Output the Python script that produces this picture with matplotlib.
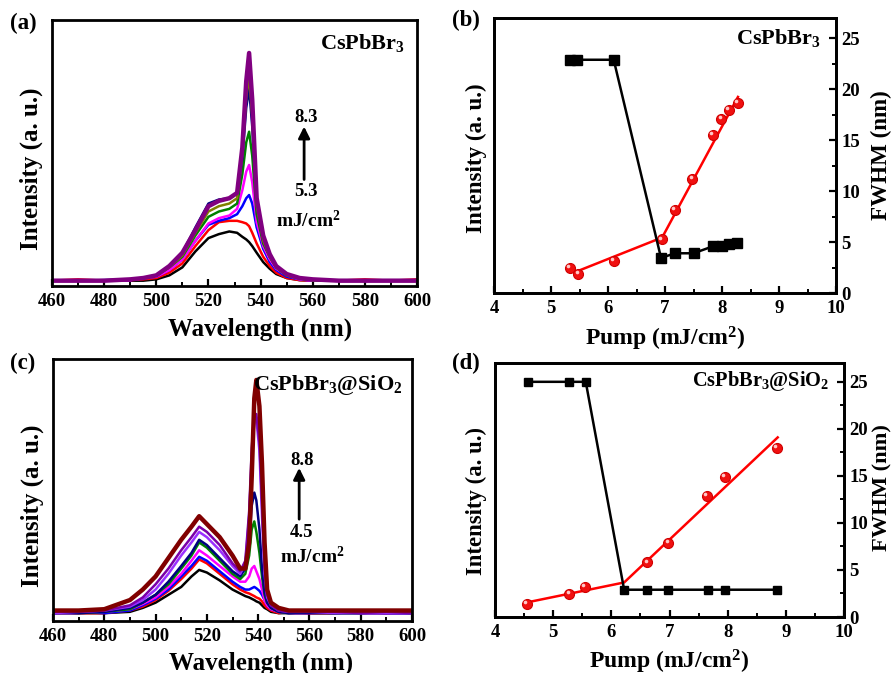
import matplotlib
matplotlib.use('Agg')
import matplotlib.pyplot as plt
from matplotlib.ticker import MultipleLocator, NullLocator
from matplotlib.transforms import ScaledTranslation

plt.rcParams['font.family'] = ['Liberation Serif', 'DejaVu Serif']
plt.rcParams['font.weight'] = 'bold'
plt.rcParams['axes.labelweight'] = 'bold'
plt.rcParams['mathtext.fontset'] = 'custom'
plt.rcParams['mathtext.rm'] = 'Liberation Serif:bold'
plt.rcParams['mathtext.it'] = 'Liberation Serif:bold:italic'
plt.rcParams['mathtext.bf'] = 'Liberation Serif:bold'

# ---------------- panel (a): CsPbBr3 spectra (normalised a.u.) ----------------
wl_a = [460, 470, 480, 490, 495, 500, 505, 510, 515, 520, 524, 528, 531, 533, 534.5,
        535.6, 536.8, 538.5, 541, 543.5, 546, 550, 555, 560, 570, 580, 590, 600]
a_black = [0.02, 0.02, 0.02, 0.02, 0.02, 0.025, 0.04, 0.07, 0.13, 0.18, 0.195, 0.205, 0.2, 0.185,
           0.175, 0.165, 0.15, 0.125, 0.09, 0.065, 0.045, 0.03, 0.022, 0.02, 0.02, 0.02, 0.02, 0.02]
a_red = [0.02, 0.025, 0.02, 0.022, 0.025, 0.03, 0.05, 0.085, 0.15, 0.21, 0.24, 0.245, 0.245, 0.24,
         0.235, 0.225, 0.2, 0.16, 0.11, 0.075, 0.05, 0.03, 0.022, 0.02, 0.02, 0.025, 0.02, 0.025]
a_blue = [0.02, 0.02, 0.022, 0.022, 0.03, 0.035, 0.06, 0.1, 0.17, 0.23, 0.245, 0.255, 0.27, 0.3,
          0.33, 0.342, 0.31, 0.22, 0.14, 0.09, 0.06, 0.035, 0.025, 0.02, 0.02, 0.02, 0.02, 0.02]
a_magenta = [0.02, 0.022, 0.02, 0.022, 0.03, 0.035, 0.06, 0.1, 0.17, 0.235, 0.255, 0.265, 0.29, 0.36,
             0.43, 0.455, 0.39, 0.24, 0.15, 0.1, 0.065, 0.04, 0.025, 0.02, 0.02, 0.02, 0.02, 0.02]
a_green = [0.02, 0.02, 0.02, 0.025, 0.03, 0.04, 0.07, 0.11, 0.19, 0.26, 0.28, 0.29, 0.31, 0.42,
           0.54, 0.58, 0.49, 0.27, 0.16, 0.11, 0.07, 0.04, 0.028, 0.022, 0.02, 0.02, 0.02, 0.02]
a_navy = [0.02, 0.02, 0.022, 0.025, 0.03, 0.04, 0.075, 0.125, 0.22, 0.31, 0.325, 0.33, 0.35, 0.48,
          0.67, 0.744, 0.6, 0.3, 0.17, 0.11, 0.07, 0.04, 0.028, 0.022, 0.02, 0.02, 0.02, 0.02]
a_olive = [0.02, 0.02, 0.02, 0.025, 0.03, 0.04, 0.07, 0.115, 0.2, 0.28, 0.3, 0.31, 0.33, 0.5,
           0.71, 0.79, 0.64, 0.3, 0.17, 0.11, 0.07, 0.04, 0.028, 0.022, 0.02, 0.02, 0.02, 0.02]
a_purple = [0.02, 0.02, 0.02, 0.025, 0.03, 0.04, 0.075, 0.125, 0.21, 0.3, 0.32, 0.33, 0.35, 0.52,
            0.77, 0.876, 0.7, 0.33, 0.19, 0.12, 0.075, 0.045, 0.03, 0.025, 0.02, 0.02, 0.02, 0.02]
colors_a = ['black', '#ff0000', '#0000ff', '#ff00ff', '#008000', '#000080', '#808000', '#800080']

# ---------------- panel (c): CsPbBr3@SiO2 spectra ----------------
wl_c = [460, 470, 480, 490, 495, 500, 505, 510, 514, 517, 520, 525, 530, 533, 535, 536.5,
        537.5, 538.5, 539.3, 540.5, 541.5, 542.5, 543.5, 545, 548, 552, 560, 570, 580, 590, 600]
c_black = [.03, .03, .03, .035, .05, .07, .10, .13, .17, .195, .185, .155, .12, .105, .095, .09,
           .085, .08, .075, .07, .06, .05, .045, .035, .03, .03, .03, .03, .03, .03, .03]
c_red = [.035, .03, .03, .04, .055, .08, .115, .16, .20, .235, .22, .18, .14, .12, .11, .105,
         .10, .095, .09, .085, .075, .06, .05, .04, .03, .035, .03, .03, .035, .03, .035]
c_blue = [.03, .035, .03, .04, .06, .085, .12, .17, .21, .245, .23, .19, .15, .13, .12, .12,
          .125, .13, .125, .115, .10, .08, .06, .045, .035, .03, .035, .03, .035, .03, .03]
c_magenta = [.03, .03, .035, .045, .065, .09, .13, .18, .23, .27, .25, .21, .17, .15, .15, .17,
             .20, .21, .19, .16, .12, .08, .06, .045, .035, .03, .03, .035, .03, .03, .03]
c_green = [.035, .03, .035, .045, .07, .10, .14, .20, .25, .30, .28, .23, .18, .16, .18, .25,
           .35, .38, .34, .26, .17, .10, .07, .05, .035, .03, .035, .03, .03, .035, .03]
c_navy = [.03, .03, .035, .05, .07, .10, .15, .21, .26, .31, .29, .24, .19, .17, .20, .30,
          .44, .49, .46, .35, .20, .11, .07, .05, .035, .03, .03, .03, .03, .03, .03]
c_violet = [.03, .035, .04, .055, .08, .12, .18, .25, .30, .34, .32, .27, .21, .18, .22, .40,
            .62, .76, .77, .65, .40, .18, .09, .06, .04, .035, .035, .03, .03, .03, .03]
c_purple = [.035, .035, .04, .06, .09, .14, .20, .27, .32, .36, .34, .29, .22, .19, .23, .42,
            .66, .78, .79, .68, .45, .20, .10, .06, .04, .035, .035, .035, .03, .035, .03]
c_maroon = [.04, .04, .045, .08, .12, .17, .24, .31, .36, .40, .37, .32, .25, .20, .20, .30,
            .55, .85, .92, .82, .60, .30, .12, .07, .05, .04, .04, .04, .04, .04, .04]
colors_c = ['black', '#ff0000', '#0000ff', '#ff00ff', '#008000', '#000080', '#9b30ff', '#7a00a8', '#800000']

# ---------------- panel (b): CsPbBr3 FWHM / intensity vs pump ----------------
pump_b_int = [5.33, 5.45, 6.10, 6.93, 7.18, 7.50, 7.85, 8.00, 8.12, 8.26]
intensity_b = [22.9, 22.9, 22.9, 3.45, 3.9, 3.9, 4.6, 4.6, 4.85, 4.9]
pump_b_fwhm = [5.33, 5.48, 6.10, 6.95, 7.17, 7.48, 7.84, 7.99, 8.12, 8.28]
fwhm_b = [2.45, 1.86, 3.17, 5.26, 8.14, 11.18, 15.5, 17.06, 17.94, 18.7]
fit_b_x = [5.44, 6.95, 8.28]
fit_b_y = [2.09, 5.45, 19.25]

# ---------------- panel (d): CsPbBr3@SiO2 FWHM / intensity vs pump ----------------
pump_d_int = [4.56, 5.27, 5.56, 6.22, 6.61, 6.97, 7.66, 7.95, 8.85]
intensity_d = [25.0, 25.0, 25.0, 2.9, 2.9, 2.9, 2.9, 2.9, 2.9]
pump_d_fwhm = [4.55, 5.28, 5.55, 6.62, 6.98, 7.64, 7.95, 8.85]
fwhm_d = [1.39, 2.46, 3.24, 5.8, 7.87, 12.85, 14.92, 17.98]
fit_d_x = [4.54, 6.22, 8.86]
fit_d_y = [1.54, 3.67, 19.09]

W, H = 892, 673
fig = plt.figure(figsize=(W / 100, H / 100), dpi=100)


def fr(l, t, r, b):
    return [l / W, 1 - b / H, (r - l) / W, (b - t) / H]


SPW = 2.0


def style_spines(ax):
    for s in ax.spines.values():
        s.set_linewidth(SPW)


def center_label(lab):
    lab.set_horizontalalignment('center')
    lab.set_verticalalignment('center')


def spectrum(ax, wl, curves, colors, widths, xlab_x, ylab_y, ylab_fs):
    for vals, c, lw in zip(curves, colors, widths):
        ax.plot(wl, vals, color=c, lw=lw, solid_joinstyle='round')
    ax.set_xlim(460, 600)
    ax.set_ylim(0, 1)
    ax.xaxis.set_major_locator(MultipleLocator(20))
    ax.xaxis.set_minor_locator(MultipleLocator(10))
    ax.yaxis.set_major_locator(NullLocator())
    ax.tick_params(axis='x', which='major', direction='in', length=5, width=1.6,
                   labelsize=13.5, pad=5)
    ax.tick_params(axis='x', which='minor', direction='in', length=3, width=1.4)
    ax.set_xlabel('Wavelength (nm)', fontsize=18)
    ax.xaxis.set_label_coords(xlab_x, -0.118)
    ax.set_ylabel('Intensity (a. u.)', fontsize=ylab_fs)
    center_label(ax.yaxis.label)
    ax.yaxis.set_label_coords(-0.0575, ylab_y)
    style_spines(ax)


# (a)
axa = fig.add_axes(fr(52, 20, 417, 286))
spectrum(axa, wl_a, [a_black, a_red, a_blue, a_magenta, a_green, a_navy, a_olive, a_purple],
         colors_a, [1.8] * 7 + [3.2], 0.57, 0.44, 18)
axa.text(595.5, 0.914, r'CsPbBr$_3$', fontsize=16, ha='right', va='center')
axa.annotate('', xy=(556.7, 0.61), xytext=(556.7, 0.39),
             arrowprops=dict(arrowstyle='-|>', color='black', lw=2, mutation_scale=17))
axa.text(557.4, 0.635, '8.3', fontsize=13.5, ha='center', va='center')
axa.text(557.4, 0.355, '5.3', fontsize=13.5, ha='center', va='center')
axa.text(558.5, 0.245, r'mJ/cm$^2$', fontsize=14, ha='center', va='center')

# (c)
axc = fig.add_axes(fr(53, 359, 412, 621))
spectrum(axc, wl_c, [c_black, c_red, c_blue, c_magenta, c_green, c_navy, c_violet, c_purple, c_maroon],
         colors_c, [1.8] * 8 + [3.2], 0.58, 0.44, 18)
axc.text(596.5, 0.9, r'CsPbBr$_3$@SiO$_2$', fontsize=16, ha='right', va='center')
axc.annotate('', xy=(556, 0.595), xytext=(556, 0.378),
             arrowprops=dict(arrowstyle='-|>', color='black', lw=2, mutation_scale=17))
axc.text(557, 0.612, '8.8', fontsize=13.5, ha='center', va='center')
axc.text(557, 0.338, '4.5', fontsize=13.5, ha='center', va='center')
axc.text(561, 0.245, r'mJ/cm$^2$', fontsize=14, ha='center', va='center')


def pump_panel(rect, px_i, iv, px_f, fv, fx, fy, sq, label, label_fs, yl_x, yl_y, fw_x, fw_y,
               ylab_fs, lab_fs, xl_y):
    ax = fig.add_axes(rect)
    ax2 = ax.twinx()
    ax.set_zorder(2)
    ax.patch.set_visible(False)
    # FWHM (right axis)
    ax2.plot(fx, fy, color='#ff0000', lw=1.8, zorder=2)
    ax2.plot(px_f, fv, ls='none', marker='o', ms=7.2, mfc='#f01010', mec='#d00000', mew=0.8, zorder=3)
    hl = ax2.transData + ScaledTranslation(-1.3 / 72, 1.3 / 72, fig.dpi_scale_trans)
    ax2.plot(px_f, fv, ls='none', marker='o', ms=2.6, mfc='#ffc8c8', mec='none',
             transform=hl, zorder=4)
    # intensity (left axis, arbitrary units)
    ax.plot(px_i, iv, color='black', lw=1.8, marker='s', ms=sq, mfc='black', mec='black')
    for a in (ax, ax2):
        a.set_xlim(4, 10)
        a.set_ylim(0, 27)
    ax.xaxis.set_major_locator(MultipleLocator(1))
    ax.xaxis.set_minor_locator(MultipleLocator(0.5))
    ax.yaxis.set_major_locator(NullLocator())
    ax.tick_params(axis='x', which='major', direction='in', length=5, width=1.6, labelsize=13.5, pad=5)
    ax.tick_params(axis='x', which='minor', direction='in', length=3, width=1.4)
    ax2.yaxis.set_major_locator(MultipleLocator(5))
    ax2.yaxis.set_minor_locator(MultipleLocator(2.5))
    ax2.tick_params(axis='y', which='major', direction='in', length=5, width=1.6, labelsize=13.5, pad=4)
    ax2.tick_params(axis='y', which='minor', direction='in', length=3, width=1.4)
    ax.set_xlabel(r'Pump (mJ/cm$^2$)', fontsize=17)
    ax.xaxis.set_label_coords(0.5, xl_y)
    ax.set_ylabel('Intensity (a. u.)', fontsize=ylab_fs)
    center_label(ax.yaxis.label)
    ax.yaxis.set_label_coords(yl_x, yl_y)
    ax2.set_ylabel('FWHM (nm)', fontsize=lab_fs, rotation=90)
    center_label(ax2.yaxis.label)
    ax2.yaxis.set_label_coords(fw_x, fw_y)
    ax.text(9.74, 25.05, label, fontsize=label_fs, ha='right', va='center')
    style_spines(ax)
    style_spines(ax2)
    return ax, ax2


axb, axb2 = pump_panel(fr(494, 18, 836, 293), pump_b_int, intensity_b, pump_b_fwhm, fwhm_b,
                       fit_b_x, fit_b_y, 7.2, r'CsPbBr$_3$', 16, -0.05, 0.49, 1.1316, 0.5,
                       16.6, 16.6, -0.116)
axd, axd2 = pump_panel(fr(495, 363, 844, 617), pump_d_int, intensity_d, pump_d_fwhm, fwhm_d,
                       fit_d_x, fit_d_y, 5.3, r'CsPbBr$_3$@SiO$_2$', 14.7, -0.052, 0.457, 1.109, 0.51,
                       16.4, 16.2, -0.122)

# panel letters
for txt, x, y in [('(a)', 23, 23), ('(b)', 466, 20), ('(c)', 23, 363), ('(d)', 466, 363)]:
    fig.text(x / W, 1 - y / H, txt, fontsize=16.5, ha='center', va='center')

fig.savefig('out.png', dpi=100)
